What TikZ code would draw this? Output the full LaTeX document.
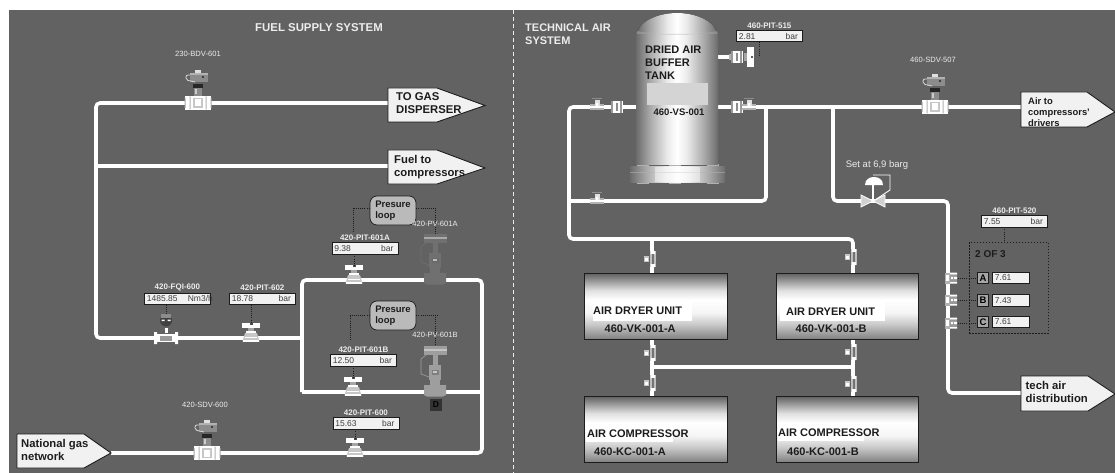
\documentclass[tikz,border=0pt]{standalone}
\usepackage{fontspec}
\setmainfont{Liberation Sans}
\usetikzlibrary{calc}
\definecolor{bg}{HTML}{626262}
\definecolor{lbl}{HTML}{ECECEC}
\definecolor{ink}{HTML}{1C1C1C}
\definecolor{boxf}{HTML}{F1F1F1}
\definecolor{midg}{HTML}{8A8A8A}
\definecolor{dimg}{HTML}{707070}
\pgfdeclareverticalshading{unitsh}{100bp}{color(0bp)=(black!50); color(25bp)=(black!50); color(36bp)=(black!22); color(45bp)=(black!4); color(55bp)=(white); color(62bp)=(black!12); color(75bp)=(black!62); color(100bp)=(black!62)}
\pgfdeclarehorizontalshading{tanksh}{100bp}{color(0bp)=(black!58); color(25bp)=(black!58); color(33bp)=(black!35); color(44bp)=(black!8); color(50bp)=(white); color(56bp)=(black!8); color(67bp)=(black!35); color(75bp)=(black!58); color(100bp)=(black!58)}
\tikzset{
 pipe/.style={draw=white,line width=3.6pt,rounded corners=4pt},
 tag/.style={text=lbl,font=\fontsize{7.6}{9}\selectfont,inner sep=0pt},
 tagb/.style={text=lbl,font=\fontsize{8}{9}\selectfont\bfseries,inner sep=0pt},
 vbox/.style={draw=ink,fill=boxf,line width=.8pt,inner sep=0pt,minimum height=11.5pt,text=ink!85,font=\fontsize{8.5}{9}\selectfont,anchor=north west},
 dots/.style={draw=ink,line width=.9pt,dash pattern=on 1pt off 1.1pt},
 flag/.style={draw=ink,fill=boxf,line width=.9pt},
 flagt/.style={text=ink,font=\fontsize{11.3}{13}\selectfont\bfseries,inner sep=0pt,anchor=north west,align=left},
 eqt/.style={text=ink,font=\fontsize{11}{12}\selectfont\bfseries,inner sep=0pt,anchor=center},
 loopb/.style={draw=ink,fill=black!27,line width=.7pt,rounded corners=7pt,minimum width=46pt,minimum height=29pt,inner sep=0pt,text=ink,font=\fontsize{9.5}{11.5}\selectfont\bfseries,align=left},
 unit/.style={draw=ink,line width=.7pt,shading=unitsh},
 sdv/.pic={
  \fill[white] (-13,-7) rectangle (13,7);
  \fill[black!35] (-13.5,-5) rectangle (-12.5,5) (12.5,-5) rectangle (13.5,5);
  \fill[black!30] (-8.5,-6.5) rectangle (-7.5,6.5) (7.5,-6.5) rectangle (8.5,6.5);
  \fill[black!22] (-5,-5) rectangle (5,5);
  \fill[white] (-3,-3.5) rectangle (3,3.5);
  \fill[black!45] (-4,-15) rectangle (4,-7);
  \fill[black!20] (-3,-14) rectangle (-1,-9);
  \fill[black!85] (-5,-19) rectangle (5,-15);
  \fill[black!45] (-8,-30) rectangle (10,-21);
  \fill[black!30] (-8,-30) rectangle (10,-28);
  \fill[black!85] (5,-26) circle (1.1);
  \fill[black!12] (-3,-33) rectangle (3,-30);
  \draw[black!15,line width=.8pt,rounded corners=2pt] (-8,-28) -- (-12,-28) -- (-12,-23) -- (-3,-21);
 },
 tx/.pic={
  \fill[white] (-9,-15) rectangle (9,-10);
  \fill[black!70] (-1.5,-15) rectangle (1.5,-13);
  \fill[black!35] (-3,-10) rectangle (3,-5);
  \fill[white] (-5,-7) rectangle (5,-5.5);
  \fill[black!22] (-6,-5) -- (6,-5) -- (8.5,3.5) -- (-8.5,3.5) -- cycle;
  \fill[white] (-6,-1.5) rectangle (6,0);
  \fill[white] (-8,2.2) rectangle (8,3.5);
 },
 mini/.pic={
  \fill[black!30] (-7,-3) rectangle (7,3);
  \fill[white] (-7,-1.2) rectangle (7,1.2);
  \fill[black!12] (-2.5,-7) rectangle (2.5,-1);
  \fill[white] (-1,-4) rectangle (1,-1);
  \fill[black!45] (-5,-9) rectangle (5,-8.2);
 },
 vtx/.pic={
  \fill[black!22] (-8,-3) rectangle (-3,3);
  \fill[white] (-7,-1.5) rectangle (-4,1.5);
  \fill[black!25] (-2.2,-8) rectangle (3.5,8);
  \fill[white] (-1.5,-8) rectangle (3,-5) (-1.5,5) rectangle (3,8);
  \fill[black!55] (0,-5) rectangle (1.5,5);
 },
 hvtx/.pic={
  \fill[black!30] (-3,-5.5) rectangle (2,5.5);
  \fill[white] (-2,-3) rectangle (1,3);
  \fill[white] (2,-5.5) rectangle (9,-3.5) (2,3.5) rectangle (9,5.5);
  \fill[black!40] (2,-3.5) rectangle (9,3.5);
  \fill[white] (3,-1.2) rectangle (5,1.2) (6.2,-1.2) rectangle (9,1.2);
 },
 sidev/.pic={
  \fill[white] (-6,-6) rectangle (6,6);
  \fill[black!40] (-6,-6) rectangle (-4,6);
  \fill[black!45] (-1,-4) rectangle (1,4);
  \fill[black!40] (2.5,-6) rectangle (4.5,6);
 },
 ctrl/.pic={
  \fill[#1] (-11,-7) -- (11,-7) -- (11,3) -- (8,4.5) -- (-8,4.5) -- (-11,3) -- cycle;
  \fill[#1] (-5,-12) rectangle (5,-7);
  \fill[#1] (-6,-27) rectangle (6,-12);
  \fill[black!60,opacity=.55] (-3.5,-22) rectangle (3.5,-17);
  \fill[white,opacity=.55] (-2,-21) rectangle (2,-19);
  \fill[#1] (-2.5,-37) rectangle (2.5,-27);
  \fill[#1] (-11.5,-46) rectangle (11.5,-37);
  \fill[white,opacity=.4] (-11.5,-43) rectangle (11.5,-41);
  \draw[#1,line width=.6pt] (-9,-37) -- (-14,-33) -- (-14,-18) -- (-6,-15);
 },
}
\newcommand{\Inst}[7]{% name, x, y, label, value, unit, label style
 \node[vbox,minimum width=66pt] (#1) at (#2,#3) {\makebox[66pt]{\hspace{2.5pt}#5\hfill #6\hspace{4.5pt}}};
 \node[#7,anchor=south] (#1l) at ($(#1.north)+(0,-1.6)$) {#4};
}
\begin{document}
\begin{tikzpicture}[x=1pt,y=-1pt]
\useasboundingbox (0,0) rectangle (1115,473);
\fill[white] (0,0) rectangle (1115,473);
\fill[bg] (9,10) rectangle (1115,473);
\coordinate (divT) at (513,10);
\coordinate (divB) at (513,473);
\draw[black!8,line width=.8pt,dash pattern=on 4pt off 3pt] (divT) -- (divB);

% ---------- pipe junctions
\coordinate (g1) at (390,103);
\coordinate (g2) at (96,103);
\coordinate (g3) at (96,338);
\coordinate (g4) at (302,338);
\coordinate (f1) at (390,166);
\coordinate (f2) at (96,166);
\coordinate (l1) at (438,280);
\coordinate (l2) at (302,280);
\coordinate (l3) at (302,392);
\coordinate (l4) at (482,392);
\coordinate (l5) at (482,280);
\coordinate (n1) at (111,453);
\coordinate (n2) at (482,453);
\coordinate (pvA) at (435,280);
\coordinate (pvB) at (435,392);
\coordinate (pA) at (354,280);
\coordinate (pB) at (353,392);
\coordinate (p600) at (355,453);
\coordinate (p602) at (251,338);
\coordinate (fqi) at (166,338);
\coordinate (bdv) at (198,103);
\coordinate (sdvA) at (207,453);

\draw[pipe] (g1) -- (g2) -- (g3) -- (g4);
\draw[pipe] (f1) -- (f2);
\draw[pipe] (l3) -- (l2) -- (l1) -- (l5) -- (n2) -- (n1);
\draw[pipe,rounded corners=0pt] (l3) -- (l4);

% ---------- left equipment
\pic at (bdv) {sdv};
\pic at (sdvA) {sdv};
\pic at (pA) {tx};
\pic at (pB) {tx};
\pic at (p600) {tx};
\pic at (p602) {tx};
\fill[white] (155,334) rectangle (177,342);
\fill[black!40] (160,335.5) rectangle (172,340.5);
\fill[white] (154,332) rectangle (157,344) (175,332) rectangle (178,344);
\fill[black!75] (166,320.5) circle (6);
\fill[black!45] (161,314) rectangle (171,317.5);
\fill[white] (161.5,319.5) rectangle (164.5,321) (167.5,319.5) rectangle (170.5,321);
\fill[white] (164.5,327.5) rectangle (167.5,333);
\pic at (pvA) {ctrl=dimg};
\pic at (pvB) {ctrl=black!38};

% ---------- left flags
\draw[flag] (388,88) -- (437,88) -- (485,105.5) -- (437,122) -- (388,122) -- cycle;
\node[flagt] (tg) at (396,92) {TO GAS\\DISPERSER};
\draw[flag] (388,150) -- (437,150) -- (485,168) -- (437,184) -- (388,184) -- cycle;
\node[flagt] (fc) at (394,155) {Fuel to\\compressors};
\draw[flag] (17,434) -- (84,434) -- (111,453) -- (84,468) -- (17,468) -- cycle;
\node[flagt] (ng) at (21,439) {National gas\\network};

\node[text=lbl,font=\fontsize{11.4}{13}\selectfont\bfseries,inner sep=0pt] (t1) at (319,28) {FUEL SUPPLY SYSTEM};
\node[tag] (l230) at (198,54) {230-BDV-601};
\node[tag] (l420) at (205,405) {420-SDV-600};

% ---------- left instruments
\Inst{bqi}{144}{292.5}{420-FQI-600}{1485.85}{Nm3/h\hspace{-7pt}}{tagb}
\Inst{b602}{229}{292.5}{420-PIT-602}{18.78}{bar}{tagb}
\Inst{bA}{331.5}{242}{420-PIT-601A}{9.38}{bar}{tagb}
\Inst{bB}{330}{354}{420-PIT-601B}{12.50}{bar}{tagb}
\Inst{b600}{332.5}{417}{420-PIT-600}{15.63}{bar}{tagb}
\draw[dots] (bqi.south -| fqi) -- (166,314);
\draw[dots] (b602.south -| p602) -- ($(p602)+(0,-15)$);
\draw[dots] (bA.south -| pA) -- ($(pA)+(0,-15)$);
\draw[dots] (bB.south -| pB) -- ($(pB)+(0,-15)$);
\draw[dots] (b600.south -| p600) -- ($(p600)+(0,-15)$);

\node[loopb] (lpA) at (393,210.5) {Presure\\loop};
\node[loopb] (lpB) at (393,315.5) {Presure\\loop};
\coordinate (dA1) at (353,208);
\coordinate (dA2) at (353,233);
\coordinate (dA3) at (435,208);
\coordinate (dA4) at (435,234);
\draw[dots] (lpA.west |- dA1) -- (dA1) -- (dA2);
\draw[dots] (lpA.east |- dA3) -- (dA3) -- (dA4);
\coordinate (dB1) at (350,315);
\coordinate (dB2) at (350,340);
\coordinate (dB3) at (438,315);
\coordinate (dB4) at (435,315);
\coordinate (dB5) at (435,345);
\draw[dots] (lpB.west |- dB1) -- (dB1) -- (dB2);
\draw[dots] (lpB.east |- dB3) -- (dB3);
\draw[dots] (dB4) -- (dB5);
\node[tag] (lpvA) at (435,224) {420-PV-601A};
\node[tag] (lpvB) at (435,335) {420-PV-601B};
\node[draw=black!80,fill=black!80,minimum size=11pt,inner sep=0pt,text=black,font=\fontsize{8.5}{9}\selectfont\bfseries] (dd) at (436,404.5) {D};

% ---------- air pipes
\coordinate (a1) at (636,107);
\coordinate (a2) at (569,107);
\coordinate (a3) at (569,239);
\coordinate (a4) at (853,239);
\coordinate (a5) at (853,273);
\coordinate (a6) at (652,239);
\coordinate (a7) at (652,273);
\coordinate (b1) at (717,107);
\coordinate (b2) at (1022,107);
\coordinate (c1) at (766,107);
\coordinate (c2) at (766,201);
\coordinate (c3) at (569,201);
\coordinate (e1) at (833,107);
\coordinate (e2) at (833,201);
\coordinate (e3) at (948,201);
\coordinate (e4) at (948,393);
\coordinate (e5) at (1022,393);
\coordinate (h1) at (652,339);
\coordinate (h2) at (652,396);
\coordinate (h3) at (853,339);
\coordinate (h4) at (853,396);
\coordinate (h5) at (652,367);
\coordinate (h6) at (853,367);
\coordinate (r1) at (717,57);
\coordinate (r2) at (730,57);
\draw[pipe] (a1) -- (a2) -- (a3) -- (a4) -- (a5);
\draw[pipe] (a6) -- (a7);
\draw[pipe] (b1) -- (b2);
\draw[pipe] (c1) -- (c2) -- (c3);
\draw[pipe] (e1) -- (e2) -- (e3) -- (e4) -- (e5);
\draw[pipe] (h1) -- (h2);
\draw[pipe] (h3) -- (h4);
\draw[pipe] (h5) -- (h6);
\draw[pipe] (r1) -- (r2);

% ---------- tank
\foreach \qx in {637,669,707}{\fill[black!30] (\qx,164) rectangle ++(12,4);\fill[black!30] (\qx,181) rectangle ++(12,3);}
\fill[shading=tanksh] (637,33) .. controls (640,20) and (660,13) .. (677,13) .. controls (694,13) and (714,20) .. (717,33) -- cycle;
\fill[shading=tanksh] (636,33) rectangle (718,165);
\fill[black!35,opacity=.5] (637,31) .. controls (660,36) and (694,36) .. (717,31) -- (717,34) -- (637,34) -- cycle;
\fill[shading=tanksh] (630,167) rectangle (725,182);
\fill[black!30,opacity=.55] (630,172) rectangle (725,173);
\fill[white,opacity=.45] (655,167) rectangle (700,182);
\fill[black!17] (647,83) rectangle (708,105);
\node[text=ink,font=\fontsize{11}{13.2}\selectfont\bfseries,inner sep=0pt,align=left,anchor=north west] (tk) at (645,45.5) {DRIED AIR\\BUFFER\\TANK};
\node[text=ink,font=\fontsize{9.5}{11}\selectfont\bfseries,inner sep=0pt] (tkid) at (679,112) {460-VS-001};

% ---------- air valves
\pic at (597,107) {mini};
\pic at (617,107) {sidev};
\pic at (737,107) {sidev};
\pic at (749,107) {mini};
\pic at (597,201) {mini};
\fill[black!30] (729,54) rectangle (732,60);
\pic at (737,57) {sidev};
\fill[black!35] (744,53) rectangle (747,61);
\fill[white] (747,47) rectangle (754,67);
\fill[black!85] (752,57) circle (1.2);
\pic at (935,107) {sdv};
\pic at (652,259) {vtx};
\pic at (853,257) {vtx};
\pic at (652,353) {vtx};
\pic at (853,352) {vtx};
\pic at (652,383) {vtx};
\pic at (853,384) {vtx};
\pic at (948,278) {hvtx};
\pic at (948,300) {hvtx};
\pic at (948,323) {hvtx};

% ---------- regulator
\coordinate (reg) at (873,201);
\fill[black!18] (861,195) -- (885,207) -- (885,195) -- (861,207) -- cycle;
\draw[white,line width=.7pt] (861,195) -- (861,207) -- (885,195) -- (885,207) -- cycle;
\fill[white] (872,185) rectangle (874,200);
\fill[white] (865,185) .. controls (865,179) and (870,177) .. (874,177) .. controls (878,177) and (883,179) .. (883,185) -- cycle;
\draw[white,line width=.9pt] (873,175) -- (890,175) -- (890,190) -- (875,200);
\node[text=lbl,font=\fontsize{9.5}{10}\selectfont,inner sep=0pt] (setl) at (877,165) {Set at 6,9 barg};

% ---------- air flags
\node[text=lbl,font=\fontsize{11}{13}\selectfont\bfseries,inner sep=0pt,align=left,anchor=north west] (t2) at (525,23.5) {TECHNICAL AIR\\SYSTEM};
\draw[flag] (1021,92) -- (1087,92) -- (1115,112) -- (1087,127) -- (1021,127) -- cycle;
\begin{scope}
\clip (1021,92) rectangle (1115,127);
\node[text=ink,font=\fontsize{9.4}{11.4}\selectfont\bfseries,inner sep=0pt,align=left,anchor=north west] (ac) at (1028,97) {Air to\\compressors'\\drivers};
\end{scope}
\draw[flag] (1021,376) -- (1088,376) -- (1115,394) -- (1088,411) -- (1021,411) -- cycle;
\node[flagt] (td) at (1025.5,381) {tech air\\distribution};
\node[tag] (l507) at (933,60) {460-SDV-507};

\Inst{b515}{736}{30}{460-PIT-515}{2.81}{bar}{tagb}
\Inst{b520}{981}{215}{460-PIT-520}{7.55}{bar}{tagb}
\coordinate (d515) at (759,55);
\draw[dots] (b515.south -| d515) -- (d515);

% ---------- 2 of 3
\node[draw=ink,line width=.8pt,dash pattern=on 1.5pt off 1.5pt,minimum width=79pt,minimum height=91pt,inner sep=0pt,anchor=north west] (vote) at (969,242) {};
\draw[dots] (b520.south -| 1004,0) -- (vote.north -| 1004,0);
\node[text=ink,font=\fontsize{10}{12}\selectfont\bfseries,inner sep=0pt,anchor=west] (v23) at (975,254.5) {2 OF 3};
\tikzset{sq/.style={draw=ink,fill=black!35,line width=.8pt,minimum size=11.5pt,inner sep=0pt,text=black,font=\fontsize{9.5}{10}\selectfont\bfseries},
 vv/.style={vbox,minimum width=37pt,anchor=west}}
\foreach \qn/\qy/\qv/\qi in {A/278/7.61/278,B/300.5/7.43/300,C/322/7.61/323}{
 \node[sq] (s\qn) at (983,\qy) {\qn};
 \node[vv] (v\qn) at (992,\qy) {\makebox[37pt]{\hspace{2.5pt}\qv\hfill}};
 \coordinate (i\qn) at (958,\qi);
 \draw[dots] (i\qn) -- (s\qn.west |- i\qn);
}

% ---------- units
\tikzset{unitn/.style={unit,minimum width=142.5pt,minimum height=66pt,inner sep=0pt,anchor=north west}}
\node[unitn] (dA) at (584,273) {};
\node[unitn,minimum width=142pt] (dB) at (776,273) {};
\node[unitn] (cA) at (584,396) {};
\node[unitn,minimum width=142pt] (cB) at (776,396) {};
\fill[white] (593,302) rectangle (692,321);
\fill[white] (780,302) rectangle (885,321);
\fill[white] (586,425) rectangle (673,442);
\fill[white] (778,425) rectangle (864,441);
\node[eqt,anchor=west] (dA1t) at (593,311) {AIR DRYER UNIT};
\node[eqt,anchor=west] (dA2t) at (604.5,328.5) {460-VK-001-A};
\node[eqt,anchor=west] (dB1t) at (786,311.5) {AIR DRYER UNIT};
\node[eqt,anchor=west] (dB2t) at (795.5,328.5) {460-VK-001-B};
\node[eqt,anchor=west] (cA1t) at (587,434) {AIR COMPRESSOR};
\node[eqt,anchor=west] (cA2t) at (594,452) {460-KC-001-A};
\node[eqt,anchor=west] (cB1t) at (778,433) {AIR COMPRESSOR};
\node[eqt,anchor=west] (cB2t) at (787,452) {460-KC-001-B};
\end{tikzpicture}
\end{document}
